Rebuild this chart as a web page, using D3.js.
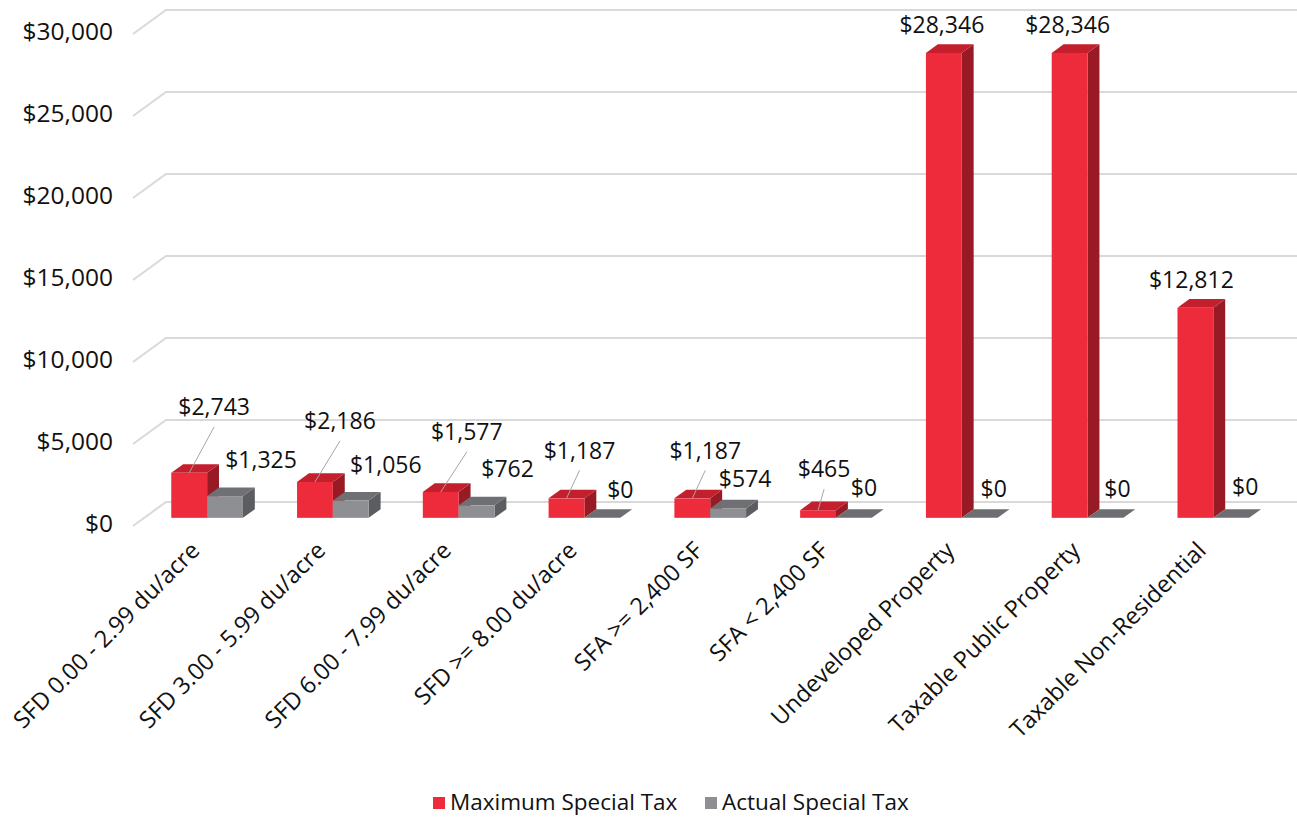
<!DOCTYPE html>
<html lang="en">
<head>
<meta charset="utf-8">
<style>
  body { margin: 0; background: #fff; }
  svg { display: block; font-family: "Open Sans", Lato, sans-serif; }
  .tick-label { font-size: 24.5px; fill: #111; }
  .val { font-size: 23px; fill: #111; }
  .cat { font-size: 23.5px; fill: #111; }
  .legend text { font-size: 22.5px; fill: #111; }
</style>
</head>
<body>
<div id="chart"></div>
<script src="https://d3js.org/d3.v7.min.js"></script>
<script>
// data
var categories = [
  "SFD 0.00 - 2.99 du/acre",
  "SFD 3.00 - 5.99 du/acre",
  "SFD 6.00 - 7.99 du/acre",
  "SFD >= 8.00 du/acre",
  "SFA >= 2,400 SF",
  "SFA < 2,400 SF",
  "Undeveloped Property",
  "Taxable Public Property",
  "Taxable Non-Residential"
];
var seriesNames = ["Maximum Special Tax", "Actual Special Tax"];
var maxTax = [2743, 2186, 1577, 1187, 1187, 465, 28346, 28346, 12812];
var actualTax = [1325, 1056, 762, 0, 574, 0, 0, 0, 0];
var yTicks = [0, 5000, 10000, 15000, 20000, 25000, 30000];

// where each data label sits, relative to the top of its bar
var maxLabelDx = [25, 25, 26, 13, 13, 6, -2, -2, -4];
var maxLabelDy = [-64, -59, -58, -46, -46, -39, -26, -26, -26];
var actLabelDx = [36, 35, 31, 18, 17, 10, 14, 12, 14];
var actLabelDy = [-34, -34, -34, -26, -28, -28, -27, -27, -29];

var width = 1297, height = 819;

// 3d look: wall offset and bar depth
var wallDx = 33, wallDy = -24;
var frontT = 0.34, backT = 0.70;

var svg = d3.select("#chart").append("svg")
    .attr("width", width)
    .attr("height", height);

var y = d3.scaleLinear().domain([0, 30000]).range([526, 34]);

var x0 = d3.scaleBand()
    .domain(categories)
    .range([133, 1265])
    .paddingInner(0.43)
    .paddingOuter(0.215);

var x1 = d3.scaleBand()
    .domain(seriesNames)
    .range([0, x0.bandwidth()]);

var colors = {
  "Maximum Special Tax": { front: "#ee2b3b", top: "#c41f2c", side: "#981a24" },
  "Actual Special Tax": { front: "#8e8f92", top: "#6f7073", side: "#5c5d60" }
};

var fmt = function (v) { return "$" + d3.format(",")(v); };

// gridlines with the slanted side wall
var grid = svg.append("g").attr("class", "grid");
grid.selectAll("path")
    .data(yTicks)
    .enter()
    .append("path")
    .attr("d", function (d) {
      var p = d3.path();
      p.moveTo(133, y(d));
      p.lineTo(133 + wallDx, y(d) + wallDy);
      p.lineTo(width, y(d) + wallDy);
      return p.toString();
    })
    .attr("fill", "none")
    .attr("stroke", "#d9d9d9")
    .attr("stroke-width", 2);

svg.append("g").selectAll("text")
    .data(yTicks)
    .enter()
    .append("text")
    .attr("class", "tick-label")
    .attr("x", 113)
    .attr("y", function (d) { return y(d) - 1; })
    .attr("text-anchor", "end")
    .attr("dominant-baseline", "middle")
    .text(fmt);

// rows of bars, one object per bar
var bars = [];
categories.forEach(function (c, i) {
  bars.push({ cat: c, s: seriesNames[0], v: maxTax[i], i: i });
  bars.push({ cat: c, s: seriesNames[1], v: actualTax[i], i: i });
});

var fdx = wallDx * frontT, fdy = wallDy * frontT;
var bdx = wallDx * backT, bdy = wallDy * backT;

function pts(list) {
  return list.map(function (p) { return p.join(","); }).join(" ");
}

var g = svg.append("g").attr("class", "bars");
var bar = g.selectAll("g")
    .data(bars)
    .enter()
    .append("g");

bar.each(function (d) {
  var el = d3.select(this);
  var xl = x0(d.cat) + x1(d.s);
  var xr = xl + x1.bandwidth();
  var yt = y(d.v), yb = y(0);
  var col = colors[d.s];
  // side
  el.append("polygon")
    .attr("points", pts([
      [xr + fdx, yt + fdy], [xr + bdx, yt + bdy],
      [xr + bdx, yb + bdy], [xr + fdx, yb + fdy]]))
    .attr("fill", col.side);
  // top
  el.append("polygon")
    .attr("points", pts([
      [xl + fdx, yt + fdy], [xr + fdx, yt + fdy],
      [xr + bdx, yt + bdy], [xl + bdx, yt + bdy]]))
    .attr("fill", d.v === 0 ? "#6d6e71" : col.top);
  // front
  el.append("rect")
    .attr("x", xl + fdx)
    .attr("y", yt + fdy)
    .attr("width", x1.bandwidth())
    .attr("height", yb - yt)
    .attr("fill", col.front);
});

// data labels; small red bars get a leader line
var labels = svg.append("g");
bars.forEach(function (d) {
  var xl = x0(d.cat) + x1(d.s) + fdx;
  var cx = xl + x1.bandwidth() / 2;
  var top = y(d.v) + fdy;
  var isMax = d.s === seriesNames[0];
  var lx = cx + (isMax ? maxLabelDx[d.i] : actLabelDx[d.i]);
  var ly = top + (isMax ? maxLabelDy[d.i] : actLabelDy[d.i]);
  if (isMax && d.v < 5000) {
    labels.append("line")
      .attr("x1", cx).attr("y1", top)
      .attr("x2", lx).attr("y2", ly + 18)
      .attr("stroke", "#a6a6a6")
      .attr("stroke-width", 1);
  }
  labels.append("text")
    .attr("class", "val")
    .attr("x", lx)
    .attr("y", ly)
    .attr("text-anchor", "middle")
    .attr("dominant-baseline", "middle")
    .text(fmt(d.v));
});

// category labels, rotated
svg.append("g").selectAll("text")
    .data(categories)
    .enter()
    .append("text")
    .attr("class", "cat")
    .attr("text-anchor", "end")
    .attr("transform", function (d) {
      var cx = x0(d) + x0.bandwidth() / 2 + fdx;
      return "translate(" + (cx - 6) + ",552) rotate(-45)";
    })
    .text(function (d) { return d; });

// legend
var legend = svg.append("g").attr("class", "legend");
var legX = [433, 705];
seriesNames.forEach(function (s, i) {
  legend.append("rect")
    .attr("x", legX[i])
    .attr("y", 797)
    .attr("width", 12)
    .attr("height", 12)
    .attr("fill", colors[s].front);
  legend.append("text")
    .attr("x", legX[i] + 17)
    .attr("y", 810)
    .text(s);
});
</script>
</body>
</html>
